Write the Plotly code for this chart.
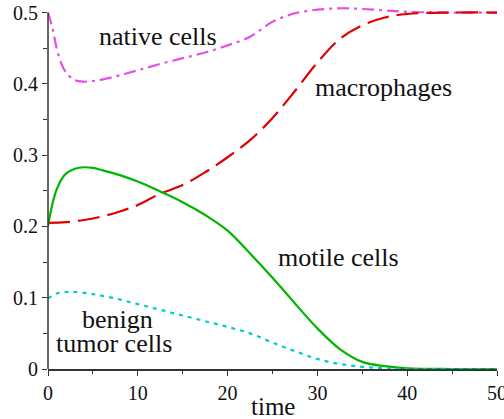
import plotly.graph_objects as go

# ---- data ----
t_native = [0, 0.5, 1, 1.5, 2, 3, 4, 5, 6, 8, 10, 12.5, 15, 17.5, 20, 22.5, 25, 27.5, 30, 32.5, 35, 37.5, 40, 45, 50]
native = [0.5, 0.478, 0.448, 0.428, 0.416, 0.405, 0.403, 0.404, 0.406, 0.412, 0.419, 0.428, 0.436, 0.444, 0.454, 0.466, 0.487, 0.499, 0.504, 0.506, 0.505, 0.503, 0.501, 0.5, 0.5]

t_macro = [0, 2, 4, 6, 8, 10, 12.5, 15, 17.5, 20, 22.5, 25, 27.5, 30, 32.5, 35, 37.5, 40, 45, 50]
macro = [0.205, 0.206, 0.209, 0.214, 0.221, 0.230, 0.246, 0.258, 0.276, 0.297, 0.321, 0.352, 0.390, 0.430, 0.463, 0.482, 0.493, 0.498, 0.5, 0.5]

t_motile = [0, 0.5, 1, 1.5, 2, 3, 4, 5, 6, 8, 10, 12.5, 15, 17.5, 20, 22.5, 25, 27.5, 30, 32.5, 35, 37.5, 40, 45, 50]
motile = [0.2, 0.232, 0.253, 0.266, 0.274, 0.281, 0.283, 0.282, 0.279, 0.272, 0.263, 0.249, 0.234, 0.216, 0.194, 0.162, 0.128, 0.092, 0.057, 0.028, 0.010, 0.004, 0.001, 0.0, 0.0]

t_benign = [0, 1, 2, 3, 5, 7.5, 10, 12.5, 15, 17.5, 20, 22.5, 25, 27.5, 30, 32.5, 35, 37.5, 40, 45, 50]
benign = [0.099, 0.106, 0.108, 0.108, 0.105, 0.099, 0.091, 0.083, 0.075, 0.067, 0.059, 0.050, 0.037, 0.025, 0.014, 0.007, 0.003, 0.001, 0.0, 0.0, 0.0]

x_ticks = [0, 10, 20, 30, 40, 50]
y_ticks = [0, 0.1, 0.2, 0.3, 0.4, 0.5]
y_tick_text = ["0", "0.1", "0.2", "0.3", "0.4", "0.5"]

labels = [
    ("native cells", 12.2, 0.466),
    ("macrophages", 37.4, 0.395),
    ("motile cells", 32.3, 0.157),
    ("benign", 7.7, 0.069),
    ("tumor cells", 7.3, 0.036),
]

FONT = "Liberation Serif"
Y_MAX = 0.512  # small headroom so the native-cell overshoot is visible

fig = go.Figure()
fig.add_trace(go.Scatter(x=t_native, y=native, mode="lines", line_shape="spline",
                         line=dict(color="#e64ee6", width=2.2, dash="12px,5px,3px,5px")))
fig.add_trace(go.Scatter(x=t_macro, y=macro, mode="lines", line_shape="spline",
                         line=dict(color="#e00000", width=2.2, dash="22px,8px")))
fig.add_trace(go.Scatter(x=t_motile, y=motile, mode="lines", line_shape="spline",
                         line=dict(color="#00b400", width=2.2)))
fig.add_trace(go.Scatter(x=t_benign, y=benign, mode="lines", line_shape="spline",
                         line=dict(color="#00cccc", width=2.2, dash="4px,5px")))

for txt, x, y in labels:
    fig.add_annotation(x=x, y=y, xref="x", yref="y", text=txt, showarrow=False,
                       font=dict(family=FONT, size=26, color="#111111"),
                       xanchor="center", yanchor="middle")

fig.add_annotation(x=25, y=0, xref="x", yref="paper", text="time", showarrow=False,
                   font=dict(family=FONT, size=25, color="#111111"),
                   xanchor="center", yanchor="middle", yshift=-37)

# y axis line only from 0 to 0.5 (as in the reference)
fig.add_shape(type="line", xref="paper", yref="y", x0=0, x1=0, y0=0, y1=y_ticks[-1],
              line=dict(color="#333333", width=1.5))

tick_common = dict(showgrid=False, zeroline=False, ticks="outside", ticklen=5, tickwidth=1.2,
                   tickcolor="#333333", ticklabeloverflow="allow", automargin=False,
                   tickfont=dict(family=FONT, size=20, color="#111111"))

fig.update_xaxes(range=[0, 50], tickvals=x_ticks, showline=True, linecolor="#333333", linewidth=1.5,
                 minor=dict(dtick=5, ticks="outside", ticklen=3, tickcolor="#333333", tickwidth=1),
                 **tick_common)
fig.update_yaxes(range=[0, Y_MAX], tickvals=y_ticks, ticktext=y_tick_text, showline=False,
                 minor=dict(tickvals=[0.05, 0.15, 0.25, 0.35, 0.45], ticks="outside", ticklen=4,
                            tickcolor="#333333", tickwidth=1),
                 **tick_common)

fig.update_layout(width=504, height=419, showlegend=False,
                  margin=dict(l=47.5, r=7, t=4.2, b=50, pad=0, autoexpand=False),
                  plot_bgcolor="white", paper_bgcolor="white")

fig.write_html("out.html", config={"displayModeBar": False},
               post_script="document.body.style.margin='0';document.body.style.padding='0';")
